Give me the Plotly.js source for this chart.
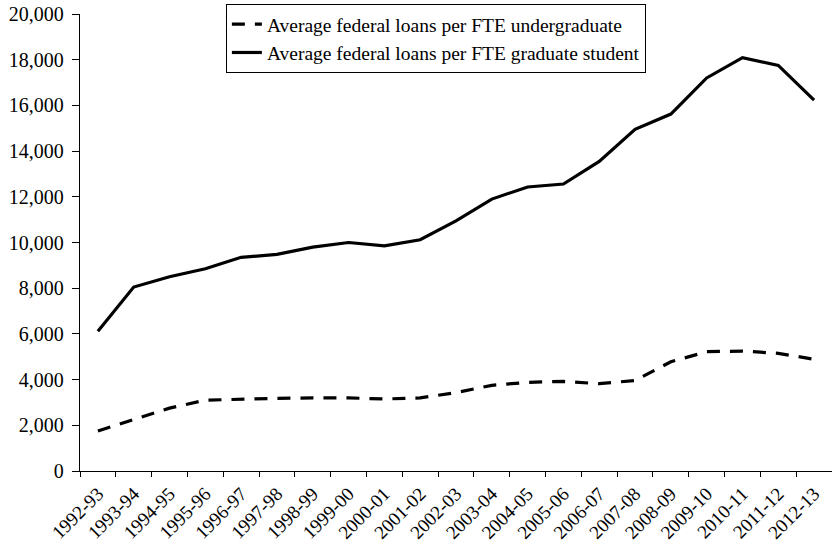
<!DOCTYPE html>
<html>
<head>
<meta charset="utf-8">
<script src="https://cdn.plot.ly/plotly-3.0.1.min.js"></script>
<style>html,body{margin:0;padding:0;background:#fff;}#chart{width:832px;height:547px;}</style>
</head>
<body>
<div id="chart"></div>
<script>
const years = ["1992-93","1993-94","1994-95","1995-96","1996-97","1997-98","1998-99","1999-00","2000-01","2001-02","2002-03","2003-04","2004-05","2005-06","2006-07","2007-08","2008-09","2009-10","2010-11","2011-12","2012-13"];
const undergrad = [1750,2250,2750,3100,3150,3180,3200,3200,3150,3200,3430,3750,3880,3920,3820,3960,4780,5220,5250,5150,4890];
const graduate = [6120,8050,8500,8850,9350,9480,9800,10000,9850,10120,10950,11900,12430,12560,13550,14950,15620,17200,18090,17750,16230];
const undergradName = "Average federal loans per FTE undergraduate";
const graduateName = "Average federal loans per FTE graduate student";

const traces = [
  {x: years, y: undergrad, name: undergradName, type: "scatter", mode: "lines", legendgroup: "u",
   line: {color: "#000", width: 3.2, dash: "13px,10px"}},
  {x: years, y: graduate, name: graduateName, type: "scatter", mode: "lines", legendgroup: "g",
   line: {color: "#000", width: 3.2}}
];
const fam = "Liberation Serif";
const layout = {
  width: 832, height: 547,
  margin: {l: 80, r: 0, t: 14, b: 76, pad: 0},
  paper_bgcolor: "#fff", plot_bgcolor: "#fff",
  font: {family: fam, size: 16, color: "#000"},
  showlegend: true,
  legend: {x: 0.194, y: 1.022, xanchor: "left", yanchor: "top",
           bordercolor: "#000", borderwidth: 1, bgcolor: "#fff", traceorder: "grouped",
           font: {family: fam, size: 19.5, color: "#000"}, itemwidth: 30, tracegroupgap: 0},
  xaxis: {type: "category", range: [-0.5, 20.5], showline: true, linecolor: "#000", linewidth: 1.3,
          ticks: "outside", ticklen: 5, tickcolor: "#000", tickson: "boundaries",
          tickangle: -45, showgrid: false, zeroline: false, ticklabelstandoff: 3,
          tickfont: {family: fam, size: 19, color: "#000"}},
  yaxis: {range: [0, 20000], dtick: 2000, tickformat: ",d", showline: true, linecolor: "#000", linewidth: 1.3,
          ticks: "outside", ticklen: 7, tickcolor: "#000", showgrid: false, zeroline: false,
          ticklabelstandoff: 4,
          tickfont: {family: fam, size: 20, color: "#000"}}
};
Plotly.newPlot("chart", traces, layout, {displayModeBar: false, staticPlot: true});
</script>
</body>
</html>
